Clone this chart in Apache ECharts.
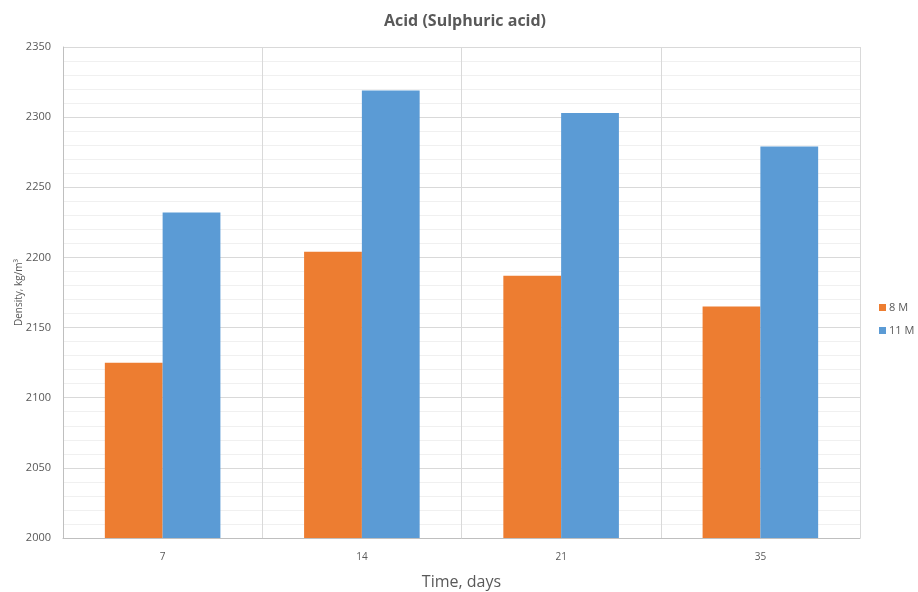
<!DOCTYPE html>
<html><head><meta charset="utf-8">
<script src="https://cdn.jsdelivr.net/npm/echarts@6/dist/echarts.min.js"></script>
<style>html,body{margin:0;padding:0;background:#fff}#c{width:918px;height:592px}</style>
</head><body><div id="c"></div>
<script>
const categories = ['7', '14', '21', '35'];
const series8M = [2125, 2204, 2187, 2165];
const series11M = [2232, 2319, 2303, 2279];
const yTicks = [2000, 2050, 2100, 2150, 2200, 2250, 2300, 2350];

const chart = echarts.init(document.getElementById('c'));
const font = '"Open Sans", sans-serif';
chart.setOption({
  animation: false,
  title: {
    text: 'Acid (Sulphuric acid)', left: 460, top: 8, textAlign: 'center',
    textStyle: { fontFamily: font, fontSize: 16, fontWeight: 'bold', color: '#595959' }
  },
  legend: {
    orient: 'vertical', left: 879, top: 302, padding: 0, itemWidth: 7, itemHeight: 7, itemGap: 12,
    icon: 'rect',
    textStyle: { fontFamily: font, fontSize: 11, color: '#595959', padding: [0, 0, 0, -2] },
    data: ['8 M', '11 M']
  },
  grid: { left: 63, right: 58, top: 47, bottom: 54, containLabel: false, outerBoundsMode: 'none' },
  xAxis: {
    type: 'category', data: categories, boundaryGap: true,
    name: 'Time, days', nameLocation: 'middle', nameGap: 36,
    nameTextStyle: { fontFamily: font, fontSize: 16, color: '#595959' },
    axisLine: { lineStyle: { color: '#bfbfbf' } },
    axisTick: { show: false },
    axisLabel: { fontFamily: font, fontSize: 10, color: '#595959', margin: 14 },
    splitLine: { show: true, lineStyle: { color: '#d9d9d9' } }
  },
  yAxis: {
    type: 'value', min: yTicks[0], max: yTicks[yTicks.length - 1], interval: 50,
    name: 'Density, kg/m³', nameLocation: 'middle', nameGap: 39, nameMoveOverlap: false,
    nameTextStyle: { fontFamily: font, fontSize: 10, color: '#595959' },
    axisLine: { show: true, lineStyle: { color: '#bfbfbf' } },
    axisTick: { show: false },
    axisLabel: { fontFamily: font, fontSize: 11, color: '#595959', margin: 12, formatter: v => String(v) },
    splitLine: { show: true, lineStyle: { color: '#d9d9d9' } },
    minorTick: { show: false, splitNumber: 5 },
    minorSplitLine: { show: true, lineStyle: { color: '#f0f0f0' } }
  },
  series: [
    { name: '8 M', type: 'bar', data: series8M, barWidth: '29%', barGap: '0%',
      itemStyle: { color: '#ed7d31' } },
    { name: '11 M', type: 'bar', data: series11M, barWidth: '29%', barGap: '0%',
      itemStyle: { color: '#5b9bd5' } }
  ]
});
</script></body></html>
